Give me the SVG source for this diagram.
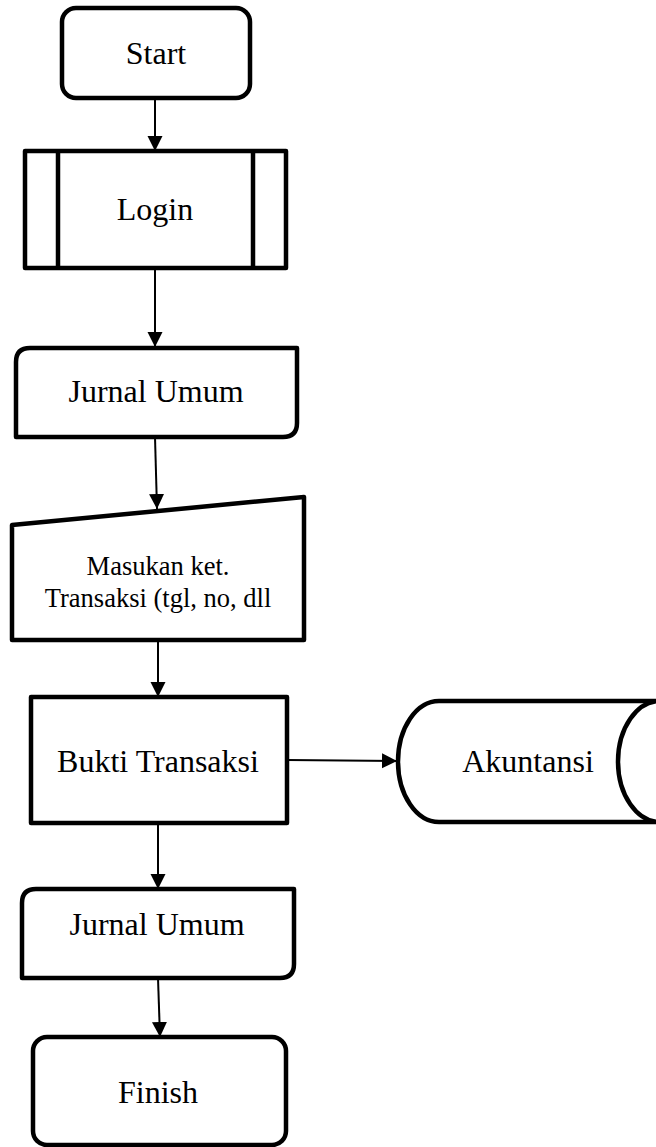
<svg xmlns="http://www.w3.org/2000/svg" width="656" height="1147" viewBox="0 0 656 1147">
<style>
.s{fill:#fff;stroke:#000;stroke-width:4.5;stroke-linejoin:round}
.t{font-family:"Liberation Serif","Times New Roman",serif;font-size:32px;fill:#000;text-anchor:middle}
.ts{font-size:26.5px}
.c{fill:none;stroke:#000;stroke-width:2}
</style>
<defs>
<marker id="ah" markerUnits="userSpaceOnUse" markerWidth="16" markerHeight="16" refX="15" refY="8" orient="auto">
<path d="M0,0.5 L15,8 L0,15.5 Z" fill="#000"/>
</marker>
</defs>
<rect width="656" height="1147" fill="#fff"/>
<g id="connectors">
<line class="c" x1="155" y1="98" x2="155" y2="151" marker-end="url(#ah)"/>
<line class="c" x1="155" y1="268" x2="155" y2="347" marker-end="url(#ah)"/>
<line class="c" x1="155" y1="437" x2="157" y2="509" marker-end="url(#ah)"/>
<line class="c" x1="158" y1="628" x2="158" y2="697" marker-end="url(#ah)"/>
<line class="c" x1="287" y1="760" x2="397" y2="761" marker-end="url(#ah)"/>
<line class="c" x1="158" y1="823" x2="158" y2="889" marker-end="url(#ah)"/>
<line class="c" x1="158" y1="978" x2="160" y2="1037" marker-end="url(#ah)"/>
</g>
<g id="start">
<rect class="s" x="62" y="8" width="188" height="90" rx="14"/>
<text class="t" x="156" y="64">Start</text>
</g>
<g id="login">
<rect class="s" x="25" y="151" width="261" height="117"/>
<line class="s" x1="58" y1="151" x2="58" y2="268"/>
<line class="s" x1="253" y1="151" x2="253" y2="268"/>
<text class="t" x="155" y="220">Login</text>
</g>
<g id="jurnal1">
<path class="s" d="M30,348 H297 V423 Q297,437 283,437 H16 V362 Q16,348 30,348 Z"/>
<text class="t" x="156" y="402">Jurnal Umum</text>
</g>
<g id="masukan">
<path class="s" d="M12,525 L304,497 V640 H12 Z"/>
<text class="t ts" x="158" y="575">Masukan ket.</text>
<text class="t ts" x="158" y="607">Transaksi (tgl, no, dll</text>
</g>
<g id="bukti">
<rect class="s" x="31" y="697" width="256" height="126"/>
<text class="t" x="158" y="772">Bukti Transaksi</text>
</g>
<g id="akuntansi">
<path class="s" d="M439,701 H660 V822 H439 A41,60.5 0 0 1 439,701 Z"/>
<path class="s" d="M660,701 A42,60.5 0 0 0 660,822" fill="none"/>
<text class="t" x="528" y="772">Akuntansi</text>
</g>
<g id="jurnal2">
<path class="s" d="M36,889 H294 V964 Q294,978 280,978 H22 V903 Q22,889 36,889 Z"/>
<text class="t" x="157" y="935">Jurnal Umum</text>
</g>
<g id="finish">
<rect class="s" x="33" y="1037" width="253" height="108" rx="14"/>
<text class="t" x="158" y="1103">Finish</text>
</g>
</svg>
